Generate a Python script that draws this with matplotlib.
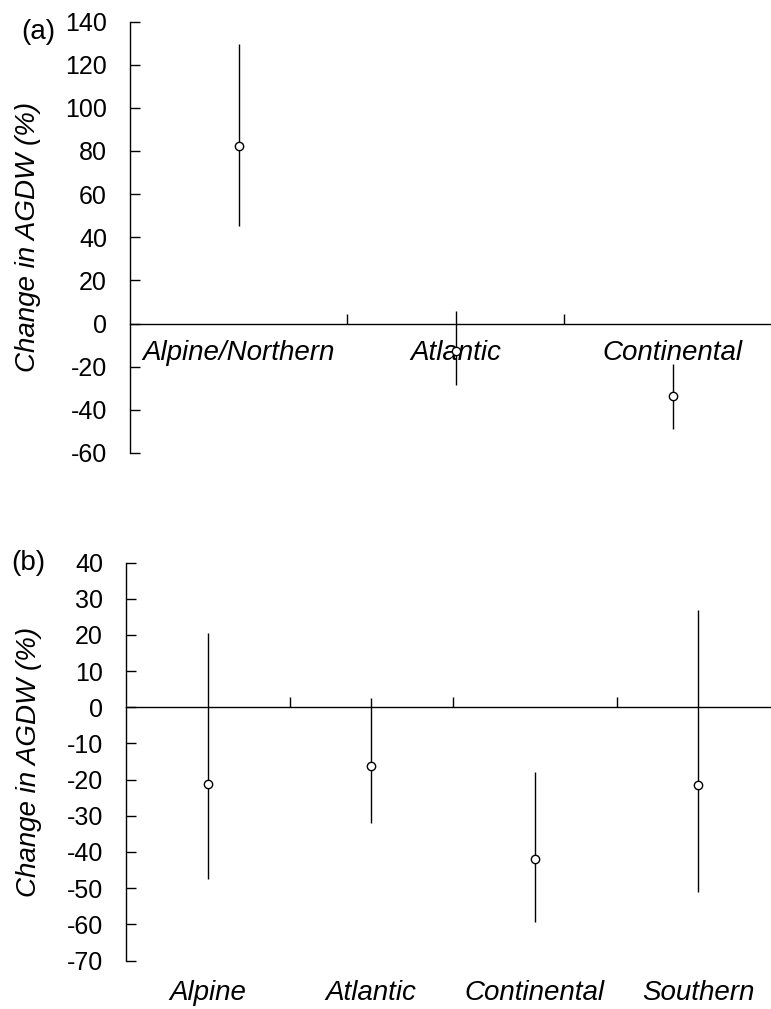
import matplotlib
matplotlib.use("Agg")
import matplotlib.pyplot as plt
import matplotlib.transforms as mtransforms

plt.rcParams["font.family"] = ["Liberation Sans", "DejaVu Sans"]

# panel (a)
regions_a = ["Alpine/Northern", "Atlantic", "Continental"]
mean_a = [82.5, -12.8, -33.5]
low_a = [45.3, -28.3, -48.9]
high_a = [129.4, 5.8, -18.8]
yticks_a = [-60, -40, -20, 0, 20, 40, 60, 80, 100, 120, 140]

# panel (b)
regions_b = ["Alpine", "Atlantic", "Continental", "Southern"]
mean_b = [-21.2, -16.3, -41.9, -21.5]
low_b = [-47.5, -32.1, -59.3, -51.2]
high_b = [20.4, 2.5, -17.8, 27.0]
yticks_b = [-70, -60, -50, -40, -30, -20, -10, 0, 10, 20, 30, 40]

W, H = 771, 1009
fig = plt.figure(figsize=(W / 100, H / 100), dpi=100)


def panel(rect, names, mean, low, high, yticks, ylabel_x, tag, tag_xy, labels_below):
    ax = fig.add_axes(rect)
    x = list(range(len(names)))
    err = [[m - l for m, l in zip(mean, low)], [h - m for m, h in zip(mean, high)]]
    ax.errorbar(x, mean, yerr=err, fmt="o", color="black", mfc="white", mec="black",
                ms=6, mew=1.0, elinewidth=1.0, capsize=0, zorder=3)
    ax.set_xlim(-0.5, len(names) - 0.5)
    ax.set_ylim(yticks[0], yticks[-1])
    ax.set_yticks(yticks)
    ax.set_yticklabels([str(t) for t in yticks])
    for s in ["top", "right"]:
        ax.spines[s].set_visible(False)
    ax.spines["bottom"].set_position(("data", 0))
    ax.spines["bottom"].set_linewidth(1.0)
    ax.spines["left"].set_linewidth(1.0)
    ax.tick_params(axis="y", direction="in", length=7, width=1.0, labelsize=18, pad=16.5)
    ax.set_xticks([i + 0.5 for i in x[:-1]], minor=True)
    ax.tick_params(axis="x", which="minor", direction="in", length=7, width=1.0)
    ax.set_xticks(x)
    if labels_below:
        ax.set_xticklabels([])
        ax.tick_params(axis="x", which="major", length=0)
        trans = mtransforms.blended_transform_factory(ax.transData, ax.transAxes)
        for i, name in zip(x, names):
            ax.text(i, -0.082, name, transform=trans, ha="center", va="center",
                    fontsize=20, style="italic")
    else:
        ax.set_xticklabels(names, fontsize=20, style="italic")
        ax.tick_params(axis="x", which="major", length=0, pad=12)
    ax.set_ylabel("Change in AGDW (%)", fontsize=20, style="italic")
    ax.yaxis.set_label_coords(ylabel_x, 0.5)
    fig.text(tag_xy[0], tag_xy[1], tag, fontsize=20, ha="center", va="center")
    return ax


panel([130 / W, 1 - 453 / H, 651 / W, 431.5 / H], regions_a, mean_a, low_a, high_a,
      yticks_a, (41 - 130) / 651, "(a)", (38 / W, 1 - 32 / H), False)
panel([126 / W, 1 - 960.5 / H, 654 / W, 398 / H], regions_b, mean_b, low_b, high_b,
      yticks_b, (42 - 126) / 654, "(b)", (28 / W, 1 - 563 / H), True)

fig.savefig("out.png", dpi=100)
